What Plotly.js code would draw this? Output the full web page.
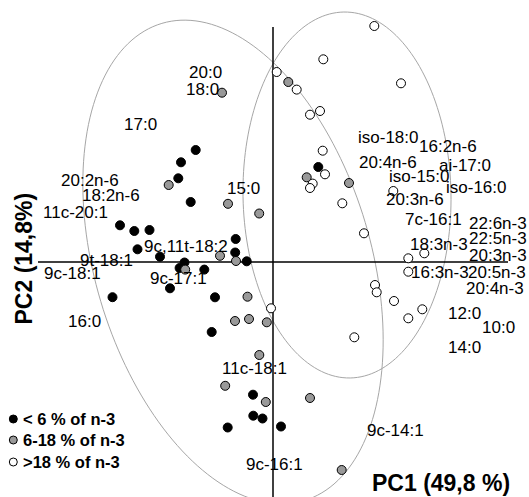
<!DOCTYPE html>
<html>
<head>
<meta charset="utf-8">
<script src="https://cdn.plot.ly/plotly-3.0.1.min.js"></script>
<style>html,body{margin:0;padding:0;background:#fff;}#chart{width:529px;height:497px;}</style>
</head>
<body>
<div id="chart"></div>
<script>
// Sample scores (PC1, PC2) by n-3 group
const lowX  = [-0.773,-0.92,-0.947,-0.823,-1.53,-1.387,-1.235,-0.373,-1.355,-1.13,-0.378,-0.263,-0.885,-0.934,-0.687,-1.03,-1.605,-0.58,-0.613,-0.20,-0.197,-0.105,-0.453,0.08,0.453];
const lowY  = [1.12,0.997,0.837,0.60,0.367,0.31,0.32,0.23,0.127,0.053,0.095,0.007,-0.005,-0.06,-0.076,-0.263,-0.352,-0.353,-0.70,-1.327,-1.537,-1.565,-1.655,-1.645,0.95];
const midX  = [-0.51,-1.043,-0.45,-0.138,-0.53,-0.37,-0.878,-0.255,-0.38,-0.24,-0.062,-0.137,-0.478,-0.072,0.37,0.687,0.153,0.337,0.76];
const midY  = [1.693,0.77,0.582,0.485,0.062,0.01,-0.076,-0.347,-0.59,-0.57,-0.603,-0.93,-1.238,-1.40,-1.36,-2.08,1.80,0.847,0.79];
const highX = [1.013,0.503,0.037,0.237,1.28,0.37,0.47,0.497,0.52,0.397,0.37,0.693,1.203,0.91,1.353,1.513,1.353,1.02,1.037,1.21,1.493,1.353,0.813,-0.02];
const highY = [2.36,2.027,1.90,1.724,1.787,1.473,1.51,1.113,0.877,0.784,0.74,0.587,0.71,0.287,0.037,0.087,-0.097,-0.23,-0.303,-0.39,-0.473,-0.563,-0.753,-0.463];

// Fatty acid loadings (labels)
const faNames = ["20:0","18:0","17:0","20:2n-6","18:2n-6","15:0","11c-20:1","9c,11t-18:2","9t-18:1","9c-18:1","9c-17:1","16:0","11c-18:1","9c-16:1","9c-14:1","12:0","10:0","14:0","iso-18:0","16:2n-6","20:4n-6","ai-17:0","iso-15:0","iso-16:0","20:3n-6","7c-16:1","22:6n-3","22:5n-3","18:3n-3","20:3n-3","16:3n-3","20:5n-3","20:4n-3"];
const faX = [-0.673,-0.71,-1.33,-1.827,-1.62,-0.30,-1.98,-0.872,-1.663,-2.008,-0.947,-1.888,-0.188,0.017,1.225,1.918,2.25,1.912,1.15,1.745,1.148,1.92,1.458,2.028,1.417,1.607,2.245,2.247,1.657,2.247,1.665,2.237,2.217];
const faY = [1.90,1.73,1.373,0.815,0.67,0.74,0.50,0.153,0.02,-0.113,-0.16,-0.59,-1.067,-2.027,-1.685,-0.518,-0.658,-0.85,1.248,1.157,0.998,0.965,0.857,0.742,0.623,0.423,0.39,0.232,0.178,0.065,-0.108,-0.108,-0.26];

// Group ellipses: [cx, cy, semi-major, semi-minor, angle(deg)]
const ellipses = [[-0.40,0.0,2.49,1.38,106.6],[0.74,0.67,1.83,1.04,91.0]];

const legendNames = ["&lt; 6 % of n-3","6-18 % of n-3","&gt;18 % of n-3"];
const groupColors = ["#000000","#999999","#ffffff"];

const FONT = "Liberation Sans, Arial, sans-serif";

function ellipsePath(e){
  const [cx,cy,a,b,ang]=e; const t0=ang*Math.PI/180;
  let p="";
  for(let i=0;i<=180;i++){
    const t=2*Math.PI*i/180;
    const x=cx+a*Math.cos(t)*Math.cos(t0)-b*Math.sin(t)*Math.sin(t0);
    const y=cy+a*Math.cos(t)*Math.sin(t0)+b*Math.sin(t)*Math.cos(t0);
    p+=(i===0?"M":"L")+x.toFixed(4)+","+y.toFixed(4);
  }
  return p+"Z";
}

const mk = (c)=>({size:9,color:c,line:{color:"#000",width:1}});
const traces = [
  {x:lowX,y:lowY,mode:"markers",type:"scatter",marker:mk(groupColors[0]),hoverinfo:"skip"},
  {x:midX,y:midY,mode:"markers",type:"scatter",marker:mk(groupColors[1]),hoverinfo:"skip"},
  {x:highX,y:highY,mode:"markers",type:"scatter",marker:mk(groupColors[2]),hoverinfo:"skip"}
];

const shapes = ellipses.map(e=>({type:"path",path:ellipsePath(e),xref:"x",yref:"y",line:{color:"#a6a6a6",width:1},layer:"below"}));
shapes.push({type:"line",xref:"x",yref:"y",x0:0,x1:0,y0:2.35,y1:-2.40,line:{color:"#000",width:1.5},layer:"below"});
shapes.push({type:"line",xref:"x",yref:"y",x0:-2.35,x1:2.35,y0:0,y1:0,line:{color:"#000",width:1.5},layer:"below"});
const legY=[-1.57,-1.78,-2.0];
legY.forEach((yy,i)=>{
  shapes.push({type:"circle",xref:"x",yref:"y",x0:-2.637,x1:-2.557,y0:yy-0.04,y1:yy+0.04,fillcolor:groupColors[i],line:{color:"#000",width:1}});
});

const annotations = faNames.map((n,i)=>({x:faX[i],y:faY[i],text:n,showarrow:false,xanchor:"center",yanchor:"middle",font:{family:FONT,size:17,color:"#000"}}));
legendNames.forEach((n,i)=>annotations.push({x:-2.52,y:legY[i],text:"<b>"+n+"</b>",showarrow:false,xanchor:"left",yanchor:"middle",font:{family:FONT,size:16.5,color:"#000"}}));
annotations.push({x:1.683,y:-2.205,text:"<b>PC1 (49,8 %)</b>",showarrow:false,xanchor:"center",yanchor:"middle",font:{family:FONT,size:23,color:"#000"}});
annotations.push({x:-2.50,y:0.035,text:"<b>PC2 (14,8%)</b>",showarrow:false,textangle:-90,xanchor:"center",yanchor:"middle",font:{family:FONT,size:23,color:"#000"}});

const layout = {
  width:529,height:497,margin:{l:0,r:0,t:0,b:0},
  paper_bgcolor:"#fff",plot_bgcolor:"#fff",showlegend:false,
  xaxis:{range:[-2.73,2.56],visible:false,fixedrange:true},
  yaxis:{range:[-2.35,2.62],visible:false,fixedrange:true},
  shapes:shapes,annotations:annotations
};
Plotly.newPlot("chart",traces,layout,{staticPlot:true,displayModeBar:false});
</script>
</body>
</html>
